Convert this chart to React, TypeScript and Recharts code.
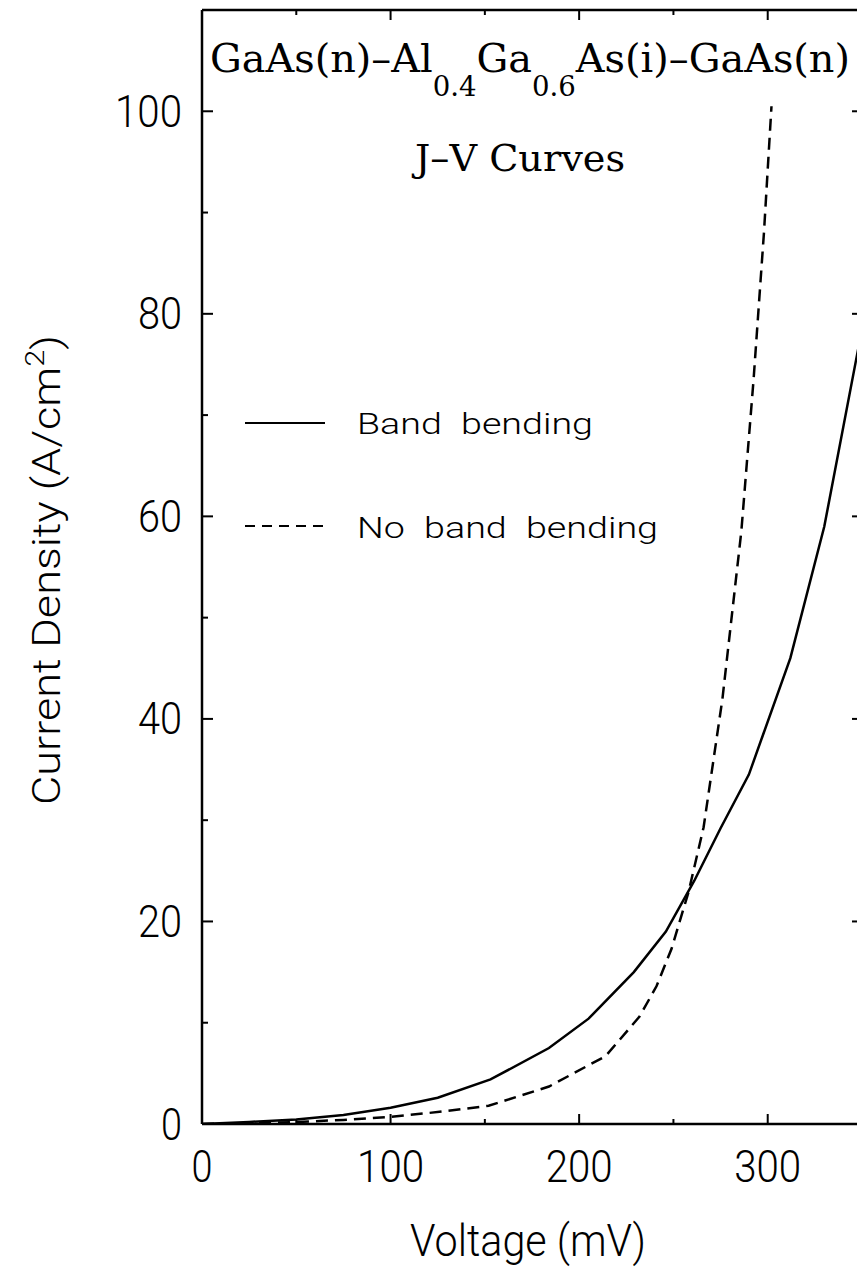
import { LineChart, Line, XAxis, YAxis } from "recharts";

// J-V curves, with band bending (solid) and without (dashed)
const bandVoltage = [0, 25, 50, 75, 100, 125, 153, 184, 205, 229, 246, 261, 275, 290, 312, 330, 350];
const bandCurrent = [0, 0.2, 0.45, 0.9, 1.6, 2.6, 4.4, 7.5, 10.4, 15, 19, 24, 29.2, 34.5, 46, 59, 78.5];

const flatVoltage = [0, 25, 50, 75, 100, 126, 152, 184, 214, 232, 241, 249, 258, 266, 276, 286, 292.5, 298, 302];
const flatCurrent = [0, 0.05, 0.2, 0.4, 0.7, 1.2, 1.8, 3.7, 6.7, 10.6, 13.6, 17.3, 22.9, 29.3, 42, 58.5, 73.5, 88, 100.5];

const xTicks = [0, 50, 100, 150, 200, 250, 300, 350];
const yTicks = [0, 10, 20, 30, 40, 50, 60, 70, 80, 90, 100];
const rightTicks = [20, 40, 60, 80, 100];

const bandData = bandVoltage.map((v, i) => ({ v, j: bandCurrent[i] }));
const flatData = flatVoltage.map((v, i) => ({ v, j: flatCurrent[i] }));

const SANS = "Roboto, 'DejaVu Sans', sans-serif";
const SERIF = "'DejaVu Serif', 'Liberation Serif', serif";
const INK = "#000";

const numWidth = (v: number) => 23 * String(v).length - 2;

const BottomTick = (p: any) => {
  const v = p.payload.value;
  const major = v % 100 === 0;
  return (
    <g>
      <line x1={p.x} x2={p.x} y1={p.y} y2={p.y - (major ? 10 : 5)} stroke={INK} strokeWidth={2} />
      {major && v <= 300 && (
        <text x={p.x} y={p.y + 58} textAnchor="middle" fontFamily={SANS} fontWeight={300} fontSize={44}
          fill={INK} textLength={numWidth(v)} lengthAdjust="spacingAndGlyphs">{v}</text>
      )}
    </g>
  );
};

const TopTick = (p: any) => {
  const major = p.payload.value % 100 === 0;
  return <line x1={p.x} x2={p.x} y1={p.y} y2={p.y + (major ? 10 : 5)} stroke={INK} strokeWidth={2} />;
};

const LeftTick = (p: any) => {
  const v = p.payload.value;
  const major = v % 20 === 0;
  return (
    <g>
      <line x1={p.x} x2={p.x + (major ? 11 : 6)} y1={p.y} y2={p.y} stroke={INK} strokeWidth={2} />
      {major && (
        <text x={p.x - 20} y={p.y + 15.5} textAnchor="end" fontFamily={SANS} fontWeight={300} fontSize={44}
          fill={INK} textLength={numWidth(v)} lengthAdjust="spacingAndGlyphs">{v}</text>
      )}
    </g>
  );
};

const RightTick = (p: any) => (
  <line x1={p.x} x2={p.x - 10} y1={p.y} y2={p.y} stroke={INK} strokeWidth={2} />
);

export default function App() {
  return (
    <div style={{ position: "fixed", left: 0, top: 0, width: 857, height: 1273, overflow: "hidden", background: "#fff" }}>
      <div style={{ position: "absolute", left: 0, top: 0 }}>
        <LineChart width={900} height={1273} margin={{ top: 9, right: 37, bottom: 148, left: 201 }}>
          <XAxis xAxisId="b" type="number" dataKey="v" domain={[0, 350]} allowDataOverflow ticks={xTicks}
            interval={0} orientation="bottom" height={1} tickSize={0} tickMargin={0} tickLine={false}
            axisLine={{ stroke: INK, strokeWidth: 2.5 }} tick={BottomTick} />
          <XAxis xAxisId="t" type="number" dataKey="v" domain={[0, 350]} allowDataOverflow ticks={xTicks}
            interval={0} orientation="top" height={1} tickSize={0} tickMargin={0} tickLine={false}
            axisLine={{ stroke: INK, strokeWidth: 2.5 }} tick={TopTick} />
          <YAxis yAxisId="l" type="number" domain={[0, 110]} allowDataOverflow ticks={yTicks} interval={0}
            orientation="left" width={1} tickSize={0} tickMargin={0} tickLine={false}
            axisLine={{ stroke: INK, strokeWidth: 2.5 }} tick={LeftTick} />
          <YAxis yAxisId="r" type="number" domain={[0, 110]} allowDataOverflow ticks={rightTicks} interval={0}
            orientation="right" width={1} tickSize={0} tickMargin={0} tickLine={false}
            axisLine={{ stroke: INK, strokeWidth: 2.5 }} tick={RightTick} />
          <Line xAxisId="b" yAxisId="l" data={bandData} dataKey="j" type="linear" stroke={INK}
            strokeWidth={2.5} dot={false} isAnimationActive={false} />
          <Line xAxisId="t" yAxisId="r" data={flatData} dataKey="j" type="linear" stroke={INK}
            strokeWidth={2.5} strokeDasharray="12 7" dot={false} isAnimationActive={false} />
        </LineChart>
      </div>
      <svg width={857} height={1273} style={{ position: "absolute", left: 0, top: 0, pointerEvents: "none" }}>
        <text x={210} y={72} fontFamily={SERIF} fontSize={39} fill={INK} textLength={640} lengthAdjust="spacingAndGlyphs">
          GaAs(n)–Al<tspan fontSize={27} dy={24}>0.4</tspan>
          <tspan dy={-24}>Ga</tspan>
          <tspan fontSize={27} dy={24}>0.6</tspan>
          <tspan dy={-24}>As(i)–GaAs(n)</tspan>
        </text>
        <text x={415} y={171} fontFamily={SERIF} fontSize={37} fill={INK} textLength={210} lengthAdjust="spacingAndGlyphs">
          J–V  Curves
        </text>

        <line x1={245} x2={325} y1={423} y2={423} stroke={INK} strokeWidth={2} />
        <text x={357} y={434} fontFamily={SANS} fontWeight={300} fontSize={30} fill={INK} textLength={236}
          lengthAdjust="spacingAndGlyphs" wordSpacing={8}>Band  bending</text>
        <line x1={245} x2={325} y1={526} y2={526} stroke={INK} strokeWidth={2} strokeDasharray="10 7" />
        <text x={357} y={538} fontFamily={SANS} fontWeight={300} fontSize={30} fill={INK} textLength={301}
          lengthAdjust="spacingAndGlyphs" wordSpacing={8}>No  band  bending</text>

        <text x={528} y={1256} textAnchor="middle" fontFamily={SANS} fontWeight={300} fontSize={44} fill={INK}
          textLength={236} lengthAdjust="spacingAndGlyphs">Voltage  (mV)</text>
        <text transform="translate(60,570) rotate(-90)" textAnchor="middle" fontFamily={SANS} fontWeight={300}
          fontSize={38} fill={INK} textLength={470} lengthAdjust="spacingAndGlyphs">
          Current Density  (A/cm<tspan fontSize={26} dy={-16}>2</tspan><tspan dy={16}>)</tspan>
        </text>
      </svg>
    </div>
  );
}
